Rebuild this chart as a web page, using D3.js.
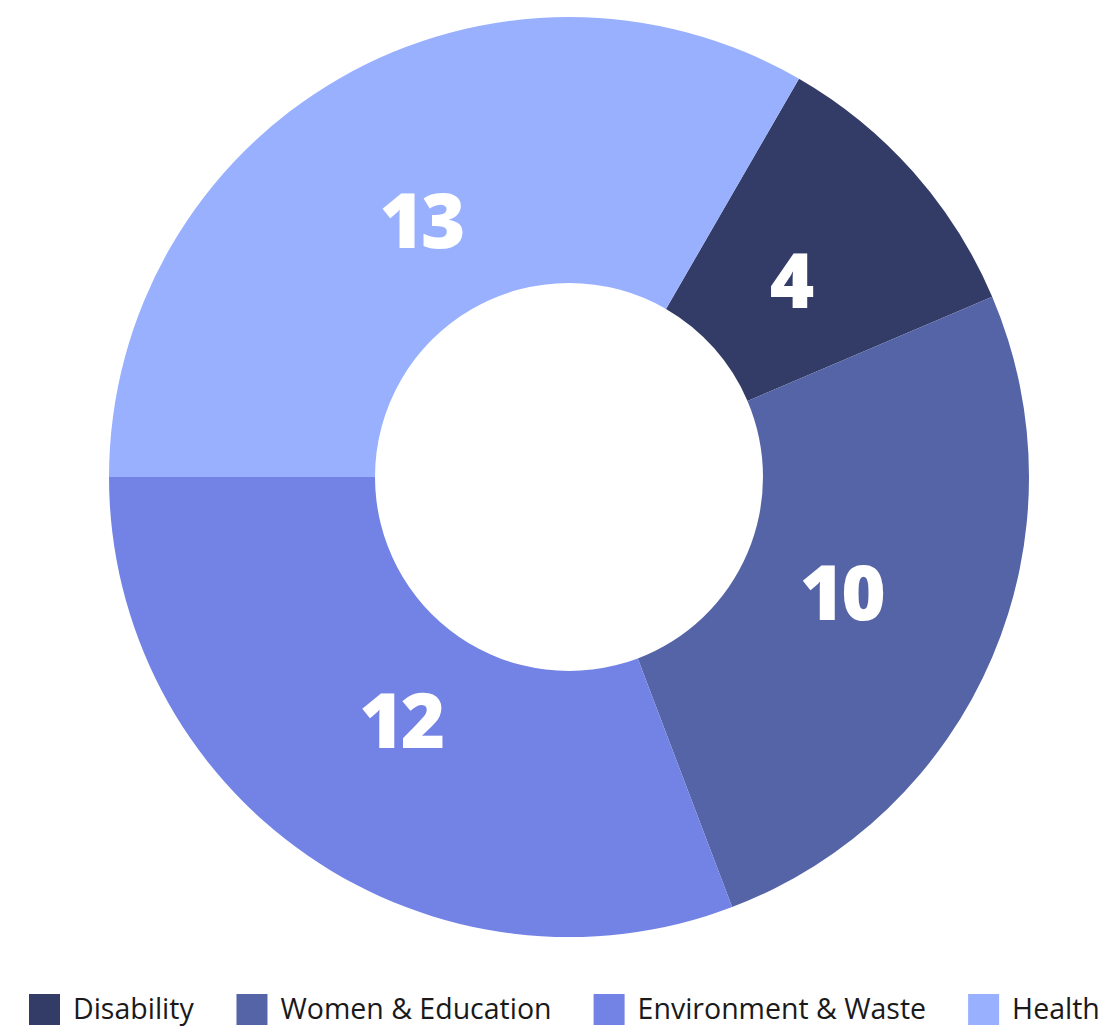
<!DOCTYPE html>
<html>
  <head>
    <meta charset="utf-8" />
    <title>Donut chart</title>
    <script src="https://d3js.org/d3.v7.min.js" charset="utf-8"></script>
    <style>
      html,
      body {
        margin: 0;
        padding: 0;
        background: #ffffff;
        font-family: "Open Sans", Arial, sans-serif;
      }
    </style>
  </head>
  <body>
    <svg id="chart"></svg>
    <script>
      // Data
      const categories = ["Disability", "Women & Education", "Environment & Waste", "Health"];
      const values = [4, 10, 12, 13];
      const colours = ["#333c66", "#5564a6", "#7383e5", "#99b0ff"];

      // SVG size
      const width = 1101;
      const height = 1026;

      // Donut geometry
      const cx = 569;
      const cy = 477;
      const outerR = 460;
      const innerR = 194;
      const labelR = 296;

      const svg = d3.select("#chart").attr("width", width).attr("height", height);

      const data = categories.map((c, i) => ({ name: c, value: values[i] }));

      const pie = d3
        .pie()
        .sort(null)
        .value((d) => d.value)
        .startAngle(Math.PI / 6)
        .endAngle(Math.PI / 6 + 2 * Math.PI);

      const arc = d3.arc().innerRadius(innerR).outerRadius(outerR);
      const labelArc = d3.arc().innerRadius(labelR).outerRadius(labelR);

      const colour = d3.scaleOrdinal().domain(categories).range(colours);

      const g = svg.append("g").attr("transform", `translate(${cx},${cy})`);

      g.selectAll("path")
        .data(pie(data))
        .enter()
        .append("path")
        .attr("d", arc)
        .attr("fill", (d) => colour(d.data.name));

      // Value labels (digits centred on the centroid)
      g.selectAll("text")
        .data(pie(data))
        .enter()
        .append("text")
        .attr("transform", (d) => `translate(${labelArc.centroid(d)})`)
        .attr("text-anchor", "middle")
        .attr("dy", "0.36em")
        .attr("fill", "#ffffff")
        .attr("font-size", 76)
        .attr("font-weight", 800)
        .attr("letter-spacing", -3)
        .text((d) => d.data.value);

      // Legend, laid out left to right from x = 29
      const legendLeft = 29;
      const legend = svg.append("g").attr("transform", "translate(0,1009)");
      const items = legend
        .selectAll("g")
        .data(categories)
        .enter()
        .append("g");

      items
        .append("rect")
        .attr("width", 31)
        .attr("height", 31)
        .attr("y", -15)
        .attr("fill", (d) => colour(d));

      items
        .append("text")
        .attr("x", 44)
        .attr("dy", "0.36em")
        .attr("font-size", 28.5)
        .attr("fill", "#1a1a1a")
        .text((d) => d);

      let x = legendLeft;
      items.each(function () {
        d3.select(this).attr("transform", `translate(${x},0)`);
        x += this.getBBox().width + 42;
      });
    </script>
  </body>
</html>
